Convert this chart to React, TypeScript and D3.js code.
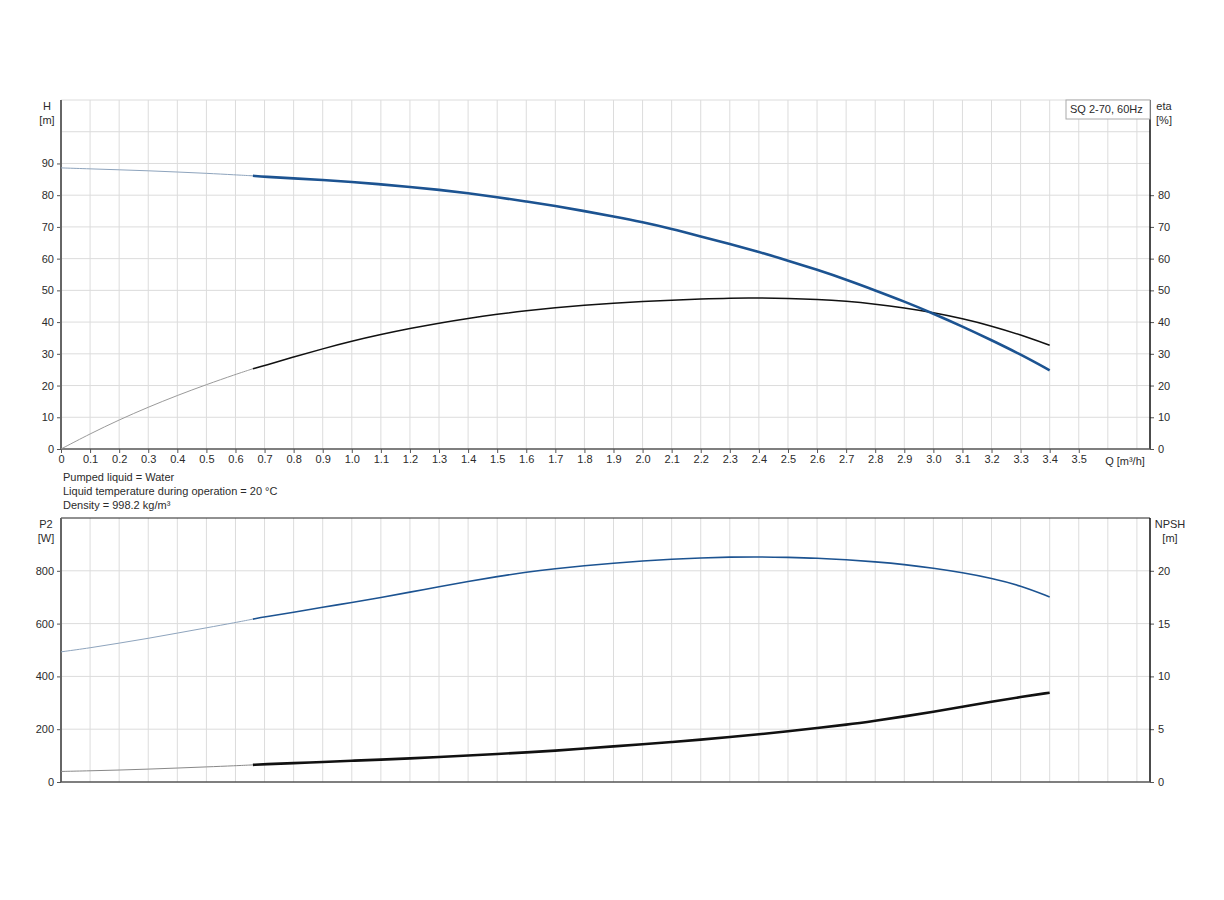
import { useEffect, useRef } from 'react';
import * as d3 from 'd3';

// Flow points [m³/h]; duty range starts at 0.66
const flow = [0, 0.1, 0.2, 0.3, 0.4, 0.5, 0.6, 0.66, 0.7, 0.8, 0.9, 1.0, 1.1, 1.2, 1.3, 1.4, 1.5, 1.6, 1.7, 1.8,
  1.9, 2.0, 2.1, 2.2, 2.3, 2.4, 2.5, 2.6, 2.7, 2.8, 2.9, 3.0, 3.1, 3.2, 3.3, 3.4];
const head = [88.6, 88.3, 88.0, 87.7, 87.3, 86.9, 86.4, 86.1, 85.8, 85.3, 84.8, 84.2, 83.4, 82.6, 81.7, 80.6, 79.4, 78.0,
  76.6, 75.0, 73.3, 71.5, 69.4, 67.0, 64.6, 62.1, 59.4, 56.5, 53.4, 50.0, 46.5, 42.7, 38.6, 34.3, 29.8, 24.8];
const efficiency = [0, 4.8, 9.2, 13.2, 16.9, 20.3, 23.5, 25.3, 26.3, 29.0, 31.6, 34.0, 36.1, 38.0, 39.7, 41.2, 42.5, 43.6,
  44.5, 45.3, 46.0, 46.5, 46.9, 47.3, 47.6, 47.6, 47.5, 47.2, 46.6, 45.7, 44.5, 43.0, 41.1, 38.8, 36.0, 32.7];
const power = [493, 508, 526, 544, 564, 584, 604, 617, 625, 643, 662, 680, 699, 719, 740, 760, 778, 795, 808, 819,
  829, 837, 844, 849, 852, 853, 851, 848, 842, 834, 824, 810, 793, 772, 744, 701];
const npsh = [1.0, 1.06, 1.13, 1.22, 1.32, 1.43, 1.54, 1.62, 1.68, 1.79, 1.9, 2.01, 2.12, 2.24, 2.37, 2.51, 2.65, 2.8,
  2.97, 3.17, 3.37, 3.57, 3.79, 4.01, 4.26, 4.51, 4.8, 5.11, 5.42, 5.8, 6.21, 6.65, 7.12, 7.6, 8.05, 8.46];
const dutyStart = 0.66;

const flowTicks = [0, 0.1, 0.2, 0.3, 0.4, 0.5, 0.6, 0.7, 0.8, 0.9, 1.0, 1.1, 1.2, 1.3, 1.4, 1.5, 1.6, 1.7, 1.8, 1.9,
  2.0, 2.1, 2.2, 2.3, 2.4, 2.5, 2.6, 2.7, 2.8, 2.9, 3.0, 3.1, 3.2, 3.3, 3.4, 3.5];
const flowGrid = [...flowTicks.slice(1), 3.6, 3.7];
const headTicks = [0, 10, 20, 30, 40, 50, 60, 70, 80, 90];
const headGrid = [10, 20, 30, 40, 50, 60, 70, 80, 90, 100];
const etaTicks = [0, 10, 20, 30, 40, 50, 60, 70, 80];
const powerTicks = [0, 200, 400, 600, 800];
const npshTicks = [0, 5, 10, 15, 20];
const notes = ['Pumped liquid = Water', 'Liquid temperature during operation = 20 °C', 'Density = 998.2 kg/m³'];
const pumpName = 'SQ 2-70, 60Hz';

const W = 1224;
const H = 900;
const left = 61;
const right = 1150;
const top1 = 100;
const bottom1 = 449;
const top2 = 518;
const bottom2 = 782;
const font = '"Liberation Sans", Arial, sans-serif';
const blue = '#1c5391';

export default function App() {
  const svgRef = useRef<SVGSVGElement>(null);

  useEffect(() => {
    if (!svgRef.current) return;
    const svg = d3.select(svgRef.current);
    svg.selectAll('*').remove();

    const x = d3.scaleLinear().domain([0, 3.745]).range([left, right]);
    const yH = d3.scaleLinear().domain([0, 110]).range([bottom1, top1]);
    const yEta = d3.scaleLinear().domain([0, 110]).range([bottom1, top1]);
    const yP = d3.scaleLinear().domain([0, 1000]).range([bottom2, top2]);
    const yN = d3.scaleLinear().domain([0, 25]).range([bottom2, top2]);

    const txt = (sel: any) => sel.attr('font-family', font).attr('font-size', 11).attr('fill', '#2b2b2b');

    // grids
    const grid = svg.append('g').attr('stroke', '#dcdcdc').attr('stroke-width', 1);
    [[top1, bottom1], [top2, bottom2]].forEach(([t, b]) => {
      grid.selectAll(null).data(flowGrid).enter().append('line')
        .attr('x1', d => x(d)).attr('x2', d => x(d)).attr('y1', t).attr('y2', b);
    });
    grid.selectAll(null).data(headGrid).enter().append('line')
      .attr('x1', left).attr('x2', right).attr('y1', d => yH(d)).attr('y2', d => yH(d));
    grid.selectAll(null).data(powerTicks.slice(1)).enter().append('line')
      .attr('x1', left).attr('x2', right).attr('y1', d => yP(d)).attr('y2', d => yP(d));
    // top border of upper chart
    grid.append('line').attr('x1', left).attr('x2', right).attr('y1', top1).attr('y2', top1);

    // lower chart top border
    svg.append('line').attr('x1', left).attr('x2', right).attr('y1', top2).attr('y2', top2)
      .attr('stroke', '#222').attr('stroke-width', 1);

    // axes
    const styleAxis = (g: any) => {
      g.select('.domain').remove();
      g.selectAll('.tick line').attr('stroke', '#555');
      g.selectAll('.tick text').attr('font-family', font).attr('font-size', 11).attr('fill', '#2b2b2b');
      g.attr('font-family', null).attr('font-size', null);
    };

    svg.append('g').attr('transform', `translate(${left},0)`)
      .call(d3.axisLeft(yH).tickValues(headTicks).tickSize(4).tickPadding(3).tickFormat(d3.format('d')))
      .call(styleAxis);
    svg.append('g').attr('transform', `translate(${right},0)`)
      .call(d3.axisRight(yEta).tickValues(etaTicks).tickSize(4).tickPadding(4).tickFormat(d3.format('d')))
      .call(styleAxis);
    svg.append('g').attr('transform', `translate(0,${bottom1})`)
      .call(d3.axisBottom(x).tickValues(flowTicks).tickSize(4).tickPadding(2)
        .tickFormat((d: any) => (d === 0 ? '0' : d.toFixed(1))))
      .call(styleAxis);
    svg.append('g').attr('transform', `translate(${left},0)`)
      .call(d3.axisLeft(yP).tickValues(powerTicks).tickSize(4).tickPadding(3).tickFormat(d3.format('d')))
      .call(styleAxis);
    svg.append('g').attr('transform', `translate(${right},0)`)
      .call(d3.axisRight(yN).tickValues(npshTicks).tickSize(4).tickPadding(4).tickFormat(d3.format('d')))
      .call(styleAxis);

    // axis lines
    const axisLine = (x1: number, y1: number, x2: number, y2: number, color: string, w: number) =>
      svg.append('line').attr('x1', x1).attr('y1', y1).attr('x2', x2).attr('y2', y2)
        .attr('stroke', color).attr('stroke-width', w);
    axisLine(left, top1, left, bottom1, '#666', 2);
    axisLine(right, top1, right, bottom1, '#111', 1.5);
    axisLine(left, bottom1, right, bottom1, '#555', 1.5);
    axisLine(left, top2, left, bottom2, '#666', 2);
    axisLine(right, top2, right, bottom2, '#111', 1.5);
    axisLine(left, bottom2, right, bottom2, '#555', 1.5);

    // unit labels
    const label = (s: string, lx: number, ly: number, anchor = 'middle') =>
      svg.append('text').attr('x', lx).attr('y', ly).attr('text-anchor', anchor).text(s).call(txt);
    label('H', 47, 110);
    label('[m]', 47, 124);
    label('eta', 1164, 110);
    label('[%]', 1164, 124);
    label('Q [m³/h]', 1125, 465);
    label('P2', 46, 528);
    label('[W]', 46, 542);
    label('NPSH', 1170, 528);
    label('[m]', 1170, 542);

    notes.forEach((n, i) => label(n, 63, 481 + i * 14, 'start'));

    // pump name box
    svg.append('rect').attr('x', 1066).attr('y', top1).attr('width', right - 1066).attr('height', 19)
      .attr('fill', '#fff').attr('stroke', '#aaa').attr('stroke-width', 1);
    label(pumpName, 1070, 113, 'start');

    // curves: thin outside duty range, heavier inside it
    const pts = (vals: number[]) => flow.map((q, i) => ({ q, v: vals[i] }));
    const drawCurve = (vals: number[], y: d3.ScaleLinear<number, number>, thin: string, thick: string, thinW: number, thickW: number) => {
      const line = d3.line<{ q: number; v: number }>().x(d => x(d.q)).y(d => y(d.v)).curve(d3.curveBasis);
      const all = pts(vals);
      svg.append('path').attr('d', line(all.filter(d => d.q <= dutyStart)))
        .attr('fill', 'none').attr('stroke', thin).attr('stroke-width', thinW);
      svg.append('path').attr('d', line(all.filter(d => d.q >= dutyStart)))
        .attr('fill', 'none').attr('stroke', thick).attr('stroke-width', thickW);
    };
    drawCurve(efficiency, yEta, '#9a9a9a', '#111', 1, 1.5);
    drawCurve(head, yH, '#8ea4bd', blue, 1, 2.6);
    drawCurve(power, yP, '#8ea4bd', blue, 1, 1.6);
    drawCurve(npsh, yN, '#888', '#111', 1, 2.6);
  }, []);

  return (
    <svg ref={svgRef} width={W} height={H}
      style={{ position: 'absolute', left: 0, top: 0, background: '#fff' }} />
  );
}
